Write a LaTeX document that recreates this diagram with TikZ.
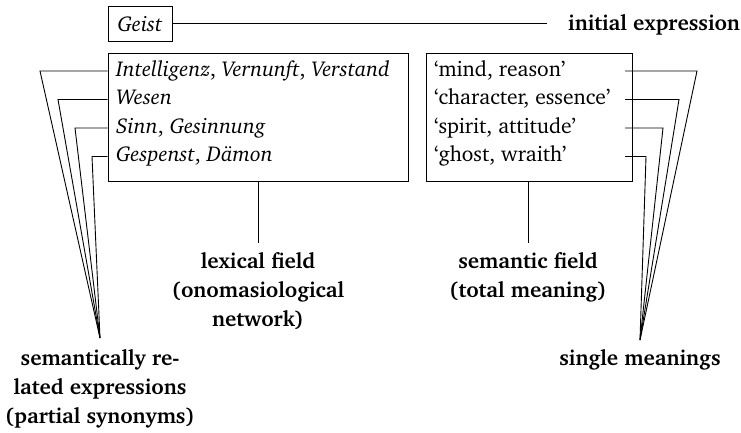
\documentclass[tikz,border=0pt]{standalone}
\usepackage[T1]{fontenc}
\renewcommand{\rmdefault}{bch}
\begin{document}
\begin{tikzpicture}[x=1pt,y=-1pt,
  every node/.style={font=\fontsize{21.5}{29}\selectfont},
  ln/.style={line width=0.9pt},
  boxn/.style={draw,line width=0.9pt,inner sep=0pt},
  itm/.style={anchor=base west,inner sep=0pt},
  lbl/.style={align=center,inner sep=0pt,font=\fontsize{21.5}{29}\selectfont\bfseries}]
\useasboundingbox (0,0) rectangle (741,432);
% boxes
\node[boxn,minimum width=64,minimum height=35] (geist) at (140,23.5) {\itshape Geist};
\node[boxn,minimum width=300,minimum height=128] (lexbox) at (258,117) {};
\node[boxn,minimum width=206,minimum height=128] (mbox) at (529,117) {};
% initial expression
\node[lbl,anchor=base west] (init) at (568,30) {initial expression};
\coordinate (iend) at (547,23.5);
\draw[ln] (geist.east) -- (iend);
% left items
\node[itm] (l1) at (116,76) {\itshape Intelligenz\/\upshape, \itshape Vernunft\/\upshape, \itshape Verstand};
\node[itm] (l2) at (116,104.5) {\itshape Wesen};
\node[itm] (l3) at (116,133) {\itshape Sinn\/\upshape, \itshape Gesinnung};
\node[itm] (l4) at (116,161.5) {\itshape Gespenst\/\upshape, \itshape D\"amon};
% right items
\node[itm] (r1) at (434,76) {`mind, reason'};
\node[itm] (r2) at (434,104.5) {`character, essence'};
\node[itm] (r3) at (434,133) {`spirit, attitude'};
\node[itm] (r4) at (434,161.5) {`ghost, wraith'};
% labels
\node[lbl,anchor=north] (lexl) at (258,252.5) {lexical field\\(onomasiological\\network)};
\node[lbl,anchor=north] (seml) at (528,252.5) {semantic field\\(total meaning)};
\node[lbl,anchor=north] (singl) at (640,349.5) {single meanings};
\node[lbl,anchor=north] (synl) at (100,349.5) {semantically re-\\lated expressions\\(partial synonyms)};
% stems
\coordinate (lstem) at (258,243);
\coordinate (sstem) at (528,243);
\draw[ln] (lexbox.south) -- (lstem);
\draw[ln] (mbox.south -| sstem) -- (sstem);
% convergence points
\coordinate (syn) at (100,338);
\coordinate (mpt) at (640,340);
% left connectors
\coordinate (a1) at (40,71);
\coordinate (a2) at (58,99.5);
\coordinate (a3) at (75,128);
\coordinate (a4) at (92,156.5);
\foreach \i in {1,2,3,4}{\draw[ln] (lexbox.west |- a\i) -- (a\i) -- (syn);}
% right connectors
\coordinate (b1) at (697,71);
\coordinate (b2) at (679,99.5);
\coordinate (b3) at (663,128);
\coordinate (b4) at (646,156.5);
\coordinate (bs) at (625,0);
\foreach \i in {1,2,3,4}{\draw[ln] (bs |- b\i) -- (b\i) -- (mpt);}
\end{tikzpicture}
\end{document}
